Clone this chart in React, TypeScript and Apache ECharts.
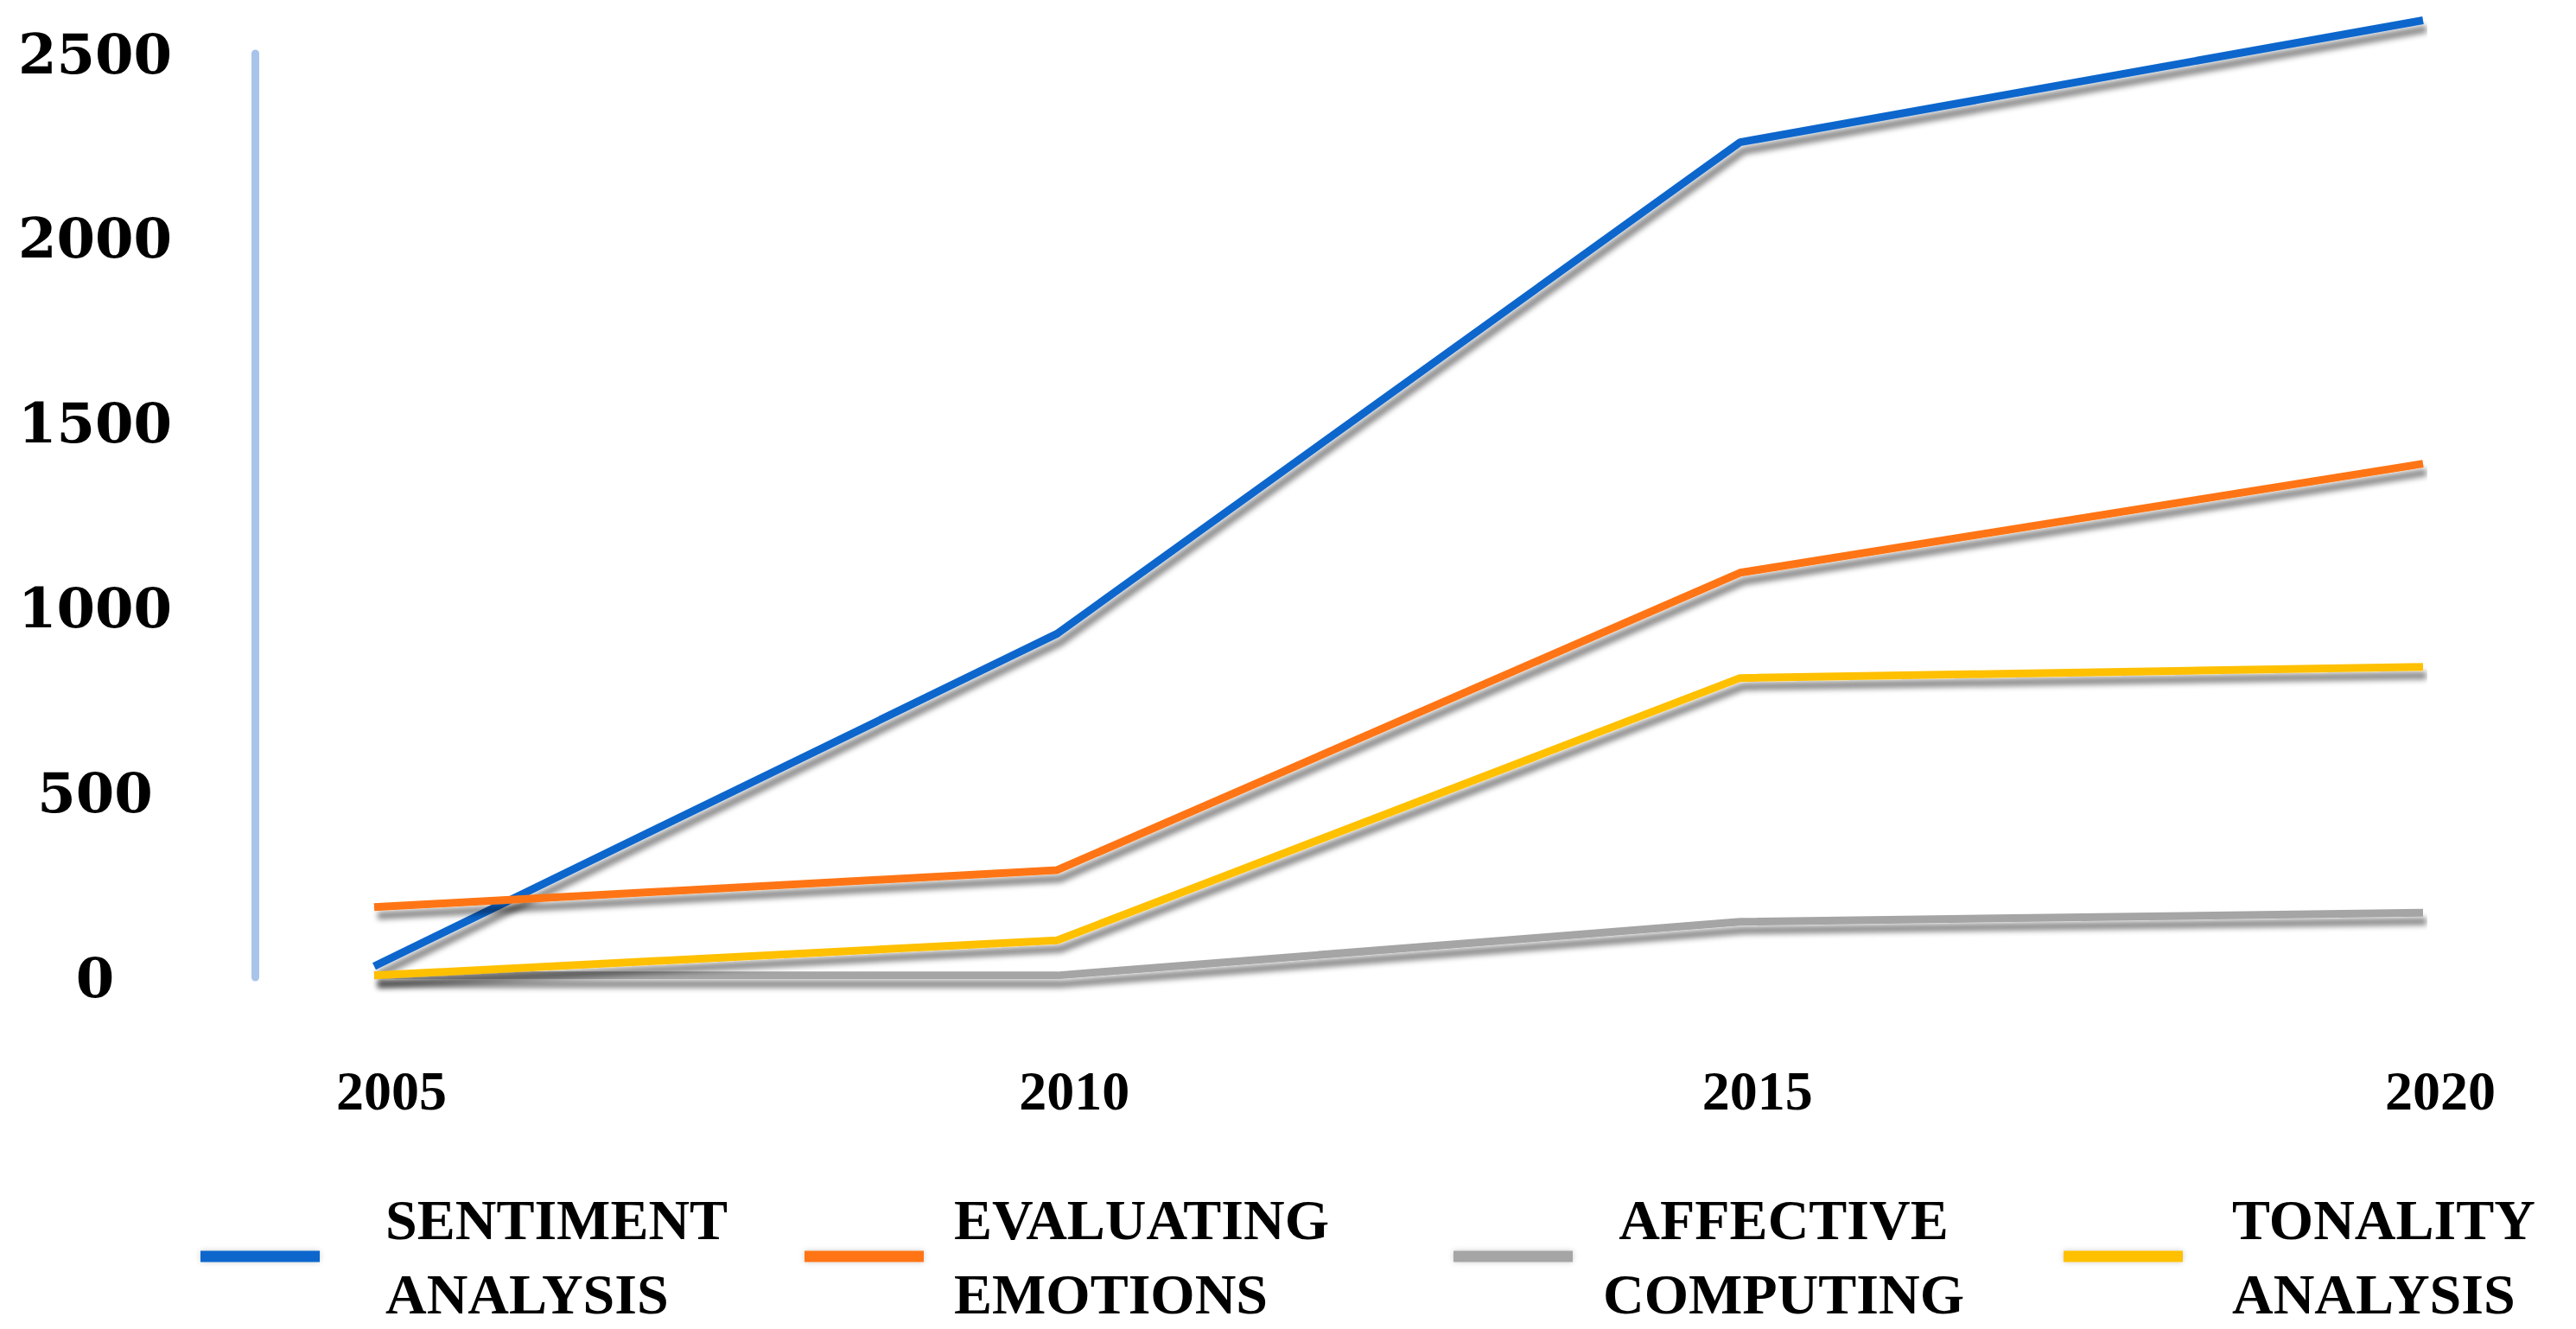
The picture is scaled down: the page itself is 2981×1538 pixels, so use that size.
import React, { useEffect, useRef } from "react";
import * as echarts from "echarts";

const years = ["2005", "2010", "2015", "2020"];
const sentimentAnalysis = [30, 930, 2260, 2590];
const evaluatingEmotions = [190, 290, 1095, 1390];
const affectiveComputing = [5, 5, 150, 175];
const tonalityAnalysis = [5, 100, 810, 840];
const seriesNames = ["SENTIMENT ANALYSIS", "EVALUATING EMOTIONS", "AFFECTIVE COMPUTING", "TONALITY ANALYSIS"];
const seriesColors = ["#0A66CC", "#FF7412", "#A5A5A5", "#FFC000"];
const yMin = 0;
const yMax = 2500;
const yStep = 500;

const SERIF = "'Liberation Serif', 'Times New Roman', serif";

export default function App() {
  const ref = useRef<HTMLDivElement>(null);
  useEffect(() => {
    if (!ref.current) return;
    const chart = echarts.init(ref.current, undefined, { renderer: "svg" });
    const values = [sentimentAnalysis, evaluatingEmotions, affectiveComputing, tonalityAnalysis];
    const legendLefts = [232, 931, 1682, 2388];
    const legendPads = [71, 30, 14, 52];
    const legends = seriesNames.map((name, i) => ({
      data: [name],
      left: legendLefts[i],
      top: 1368,
      padding: 0,
      icon: "rect",
      itemWidth: 138,
      itemHeight: 13,
      itemStyle: { shadowColor: "rgba(0,0,0,0.2)", shadowBlur: 6 },
      formatter: (n: string) =>
        i === 2 ? n.split(" ").map((w) => `{c|${w}}`).join("\n") : n.split(" ").join("\n"),
      textStyle: {
        color: "#000",
        fontFamily: SERIF,
        fontWeight: "bold",
        fontSize: 66,
        lineHeight: 86,
        padding: [0, 0, 0, legendPads[i]],
        rich: {
          c: {
            fontFamily: SERIF,
            fontWeight: "bold",
            fontSize: 66,
            lineHeight: 86,
            color: "#000",
            width: 450,
            align: "center",
          },
        },
      },
    }));
    chart.setOption({
      animation: false,
      backgroundColor: "#fff",
      grid: { left: 433, right: 177, top: 62, bottom: 407, containLabel: false },
      legend: legends,
      xAxis: {
        type: "category",
        data: years,
        boundaryGap: false,
        axisLine: { show: false },
        axisTick: { show: false },
        splitLine: { show: false },
        axisLabel: {
          margin: 99,
          color: "#000",
          fontFamily: SERIF,
          fontWeight: "bold",
          fontSize: 64,
          padding: [0, 0, 0, 40],
        },
      },
      yAxis: {
        type: "value",
        min: yMin,
        max: yMax,
        interval: yStep,
        offset: 138,
        axisLine: { show: true, lineStyle: { color: "#A9C4EA", width: 9 } },
        axisTick: { show: false },
        splitLine: { show: false },
        axisLabel: {
          margin: 185,
          align: "center",
          color: "#000",
          fontFamily: "'DejaVu Serif', serif",
          fontWeight: "bold",
          fontSize: 64,
          formatter: (v: number) => String(v),
        },
      },
      series: seriesNames.map((name, i) => ({
        name,
        type: "line",
        data: values[i],
        symbol: "none",
        clip: false,
        color: seriesColors[i],
        lineStyle: {
          color: seriesColors[i],
          width: 9,
          shadowColor: "rgba(0,0,0,0.45)",
          shadowBlur: 6,
          shadowOffsetX: 4,
          shadowOffsetY: 10,
        },
      })),
    });
    return () => chart.dispose();
  }, []);
  return (
    <div
      ref={ref}
      style={{ position: "absolute", left: 0, top: 0, width: 2981, height: 1538 }}
    />
  );
}
